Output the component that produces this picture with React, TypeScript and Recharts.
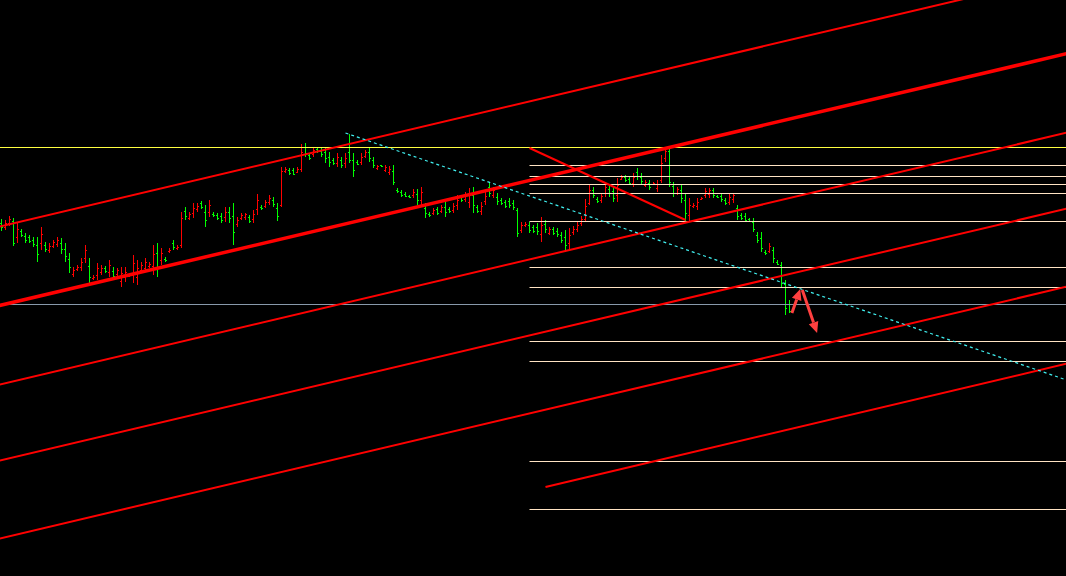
import { ComposedChart, Bar, XAxis, YAxis, ReferenceLine } from 'recharts';

// OHLC prices, one entry per bar
const opens = [
  1777, 1773, 1777, 1779, 1763, 1769, 1764, 1763, 1760, 1755, 1757, 1755,
  1750, 1754, 1756, 1757, 1751, 1741, 1726, 1731, 1733, 1742, 1734, 1722,
  1725, 1728, 1732, 1728, 1729, 1726, 1719, 1723, 1724, 1725, 1723, 1730,
  1732, 1734, 1734, 1747, 1740, 1741, 1749, 1757, 1752, 1755, 1789, 1782,
  1787, 1791, 1797, 1788, 1788, 1786, 1785, 1784, 1783, 1788, 1784, 1776,
  1782, 1783, 1783, 1781, 1791, 1793, 1794, 1798, 1800, 1792, 1795, 1829,
  1830, 1830, 1828, 1831, 1853, 1845, 1846, 1851, 1849, 1848, 1843, 1840,
  1837, 1840, 1837, 1848, 1840, 1838, 1838, 1844, 1848, 1840, 1832, 1835,
  1830, 1828, 1829, 1810, 1808, 1806, 1804, 1805, 1806, 1800, 1792, 1786,
  1787, 1791, 1789, 1793, 1791, 1790, 1795, 1803, 1801, 1798, 1805, 1793,
  1789, 1799, 1813, 1805, 1803, 1800, 1798, 1799, 1797, 1790, 1770, 1775,
  1775, 1773, 1773, 1766, 1776, 1767, 1771, 1769, 1765, 1763, 1757, 1768,
  1771, 1777, 1781, 1797, 1810, 1801, 1800, 1807, 1811, 1809, 1805, 1821,
  1823, 1821, 1817, 1828, 1823, 1815, 1817, 1816, 1812, 1820, 1842, 1849,
  1814, 1807, 1810, 1800, 1785, 1794, 1794, 1801, 1805, 1806, 1810, 1804,
  1804, 1800, 1798, 1801, 1792, 1785, 1784, 1781, 1778, 1765, 1762, 1748,
  1749, 1750, 1738, 1735, 1716, 1696,
];
const highs = [
  1781, 1780, 1784, 1782, 1777, 1771, 1767, 1765, 1763, 1763, 1773, 1758,
  1757, 1760, 1763, 1762, 1757, 1747, 1733, 1735, 1742, 1755, 1742, 1725,
  1737, 1735, 1734, 1740, 1733, 1732, 1733, 1733, 1727, 1745, 1740, 1738,
  1742, 1738, 1755, 1757, 1752, 1743, 1752, 1760, 1755, 1788, 1793, 1788,
  1797, 1797, 1799, 1795, 1800, 1788, 1787, 1787, 1793, 1793, 1797, 1783,
  1787, 1787, 1785, 1790, 1806, 1795, 1800, 1805, 1803, 1797, 1833, 1833,
  1832, 1832, 1833, 1856, 1857, 1847, 1853, 1853, 1852, 1853, 1848, 1842,
  1847, 1843, 1847, 1866, 1847, 1840, 1847, 1850, 1852, 1843, 1835, 1835,
  1835, 1834, 1835, 1812, 1810, 1808, 1805, 1811, 1811, 1813, 1797, 1788,
  1792, 1793, 1795, 1798, 1793, 1797, 1805, 1805, 1808, 1812, 1813, 1795,
  1798, 1808, 1817, 1813, 1807, 1802, 1800, 1802, 1800, 1792, 1778, 1778,
  1778, 1775, 1777, 1783, 1780, 1773, 1773, 1772, 1768, 1770, 1772, 1774,
  1778, 1784, 1801, 1815, 1813, 1803, 1807, 1817, 1815, 1813, 1822, 1825,
  1825, 1823, 1827, 1832, 1827, 1820, 1820, 1818, 1820, 1845, 1853, 1853,
  1818, 1813, 1815, 1807, 1802, 1797, 1802, 1803, 1812, 1812, 1812, 1805,
  1807, 1802, 1807, 1807, 1795, 1787, 1787, 1782, 1782, 1768, 1768, 1750,
  1757, 1753, 1740, 1738, 1720, 1700,
];
const lows = [
  1769, 1770, 1774, 1754, 1757, 1763, 1757, 1757, 1753, 1738, 1750, 1748,
  1747, 1752, 1753, 1746, 1738, 1727, 1723, 1729, 1729, 1737, 1715, 1720,
  1720, 1725, 1727, 1723, 1720, 1724, 1713, 1718, 1723, 1717, 1715, 1727,
  1728, 1732, 1725, 1723, 1735, 1738, 1747, 1750, 1750, 1752, 1780, 1780,
  1782, 1788, 1791, 1773, 1783, 1783, 1780, 1777, 1778, 1777, 1755, 1773,
  1780, 1780, 1777, 1777, 1785, 1790, 1792, 1795, 1793, 1779, 1793, 1827,
  1825, 1825, 1827, 1828, 1843, 1840, 1843, 1847, 1843, 1837, 1833, 1835,
  1833, 1832, 1832, 1837, 1823, 1835, 1835, 1842, 1838, 1832, 1830, 1833,
  1828, 1825, 1815, 1807, 1803, 1803, 1802, 1802, 1795, 1795, 1782, 1783,
  1785, 1785, 1787, 1783, 1787, 1787, 1790, 1798, 1798, 1792, 1787, 1787,
  1785, 1795, 1803, 1802, 1795, 1795, 1792, 1792, 1790, 1763, 1767, 1773,
  1767, 1767, 1765, 1758, 1767, 1765, 1765, 1763, 1757, 1748, 1750, 1765,
  1768, 1774, 1778, 1795, 1802, 1797, 1797, 1803, 1803, 1798, 1798, 1820,
  1818, 1815, 1813, 1820, 1815, 1813, 1810, 1815, 1808, 1817, 1838, 1813,
  1803, 1805, 1797, 1778, 1778, 1792, 1790, 1800, 1802, 1802, 1802, 1802,
  1798, 1795, 1795, 1797, 1780, 1780, 1778, 1778, 1768, 1757, 1748, 1745,
  1747, 1737, 1735, 1713, 1685, 1687,
];
const closes = [
  1773, 1777, 1781, 1757, 1771, 1765, 1760, 1759, 1756, 1746, 1766, 1751,
  1754, 1758, 1760, 1751, 1744, 1733, 1730, 1733, 1738, 1750, 1723, 1723,
  1732, 1732, 1729, 1735, 1724, 1730, 1727, 1728, 1726, 1737, 1732, 1735,
  1738, 1736, 1746, 1733, 1747, 1740, 1750, 1753, 1753, 1782, 1784, 1786,
  1792, 1794, 1793, 1780, 1795, 1785, 1782, 1780, 1788, 1782, 1768, 1780,
  1785, 1786, 1779, 1786, 1800, 1792, 1798, 1802, 1796, 1784, 1829, 1831,
  1827, 1826, 1831, 1848, 1847, 1842, 1850, 1849, 1846, 1842, 1838, 1837,
  1843, 1835, 1842, 1840, 1830, 1836, 1843, 1848, 1842, 1835, 1834, 1834,
  1833, 1831, 1818, 1809, 1805, 1804, 1803, 1808, 1800, 1808, 1787, 1785,
  1790, 1787, 1793, 1788, 1789, 1794, 1800, 1800, 1805, 1806, 1795, 1789,
  1794, 1804, 1807, 1810, 1799, 1797, 1794, 1795, 1793, 1767, 1775, 1776,
  1770, 1769, 1769, 1775, 1771, 1771, 1767, 1766, 1760, 1755, 1765, 1771,
  1775, 1781, 1794, 1810, 1805, 1799, 1804, 1813, 1807, 1802, 1815, 1823,
  1820, 1817, 1823, 1824, 1819, 1818, 1813, 1817, 1816, 1837, 1849, 1818,
  1807, 1811, 1802, 1787, 1795, 1795, 1798, 1802, 1809, 1810, 1805, 1803,
  1801, 1797, 1803, 1805, 1784, 1782, 1780, 1779, 1771, 1760, 1752, 1747,
  1754, 1742, 1736, 1717, 1692, 1689,
];

// full-width horizontal levels
const yellowLevel = 1852.5;
const grayLevel = 1695.5;
// levels drawn from bar 132 to the right edge
const rightLevels = [1834.5, 1823.5, 1815.5, 1806.5, 1778.5, 1732.5, 1712.5, 1658.5, 1638.5, 1538.5, 1490.5];
const rightLevelStart = 132;

// parallel channel lines: [x1, y1, x2, y2, width]
const channelLines = [
  [-1, 1773, 267, 2026, 2],
  [-1, 1694, 267, 1947, 3.5],
  [-1, 1615, 267, 1868, 2],
  [-1, 1539, 267, 1792, 2],
  [-1, 1461, 267, 1714, 2],
  [136, 1513, 267, 1637, 2],
];
const crossLine = [132, 1852, 171, 1780];
const trendLine = [86, 1867, 267, 1619];
// arrows: [fromX, fromY, toX, toY]
const arrows = [
  [197.6, 1687, 199.7, 1711],
  [200.2, 1710, 203.9, 1667],
];

const X_MIN = -0.375;
const X_MAX = 266.125;

const data = opens.map((o, i) => ({
  i,
  o,
  h: highs[i],
  l: lows[i],
  c: closes[i],
  range: [lows[i], highs[i]],
}));

function OhlcBar(props: any) {
  const { x, y, width, height, payload } = props;
  const { o, h, l, c } = payload;
  const top = Math.min(y, y + height);
  const span = Math.abs(height);
  const cx = Math.floor(x + width / 2);
  const py = (v: number) => Math.round(top + ((h - v) / (h - l || 1)) * span);
  const color = c >= o ? '#ff0000' : '#00ff00';
  const yTop = Math.round(top);
  const yBot = Math.max(Math.round(top + span), yTop + 1);
  return (
    <g shapeRendering="crispEdges">
      <rect x={cx} y={yTop} width={1} height={yBot - yTop} fill={color} />
      <rect x={cx - 1} y={py(o)} width={1} height={1} fill={color} />
      <rect x={cx + 1} y={py(c)} width={1} height={1} fill={color} />
    </g>
  );
}

function ArrowShape(props: any) {
  const { x1, y1, x2, y2 } = props;
  const dx = x2 - x1;
  const dy = y2 - y1;
  const len = Math.sqrt(dx * dx + dy * dy) || 1;
  const ux = dx / len;
  const uy = dy / len;
  const head = 11;
  const half = 5;
  const bx = x2 - ux * head;
  const by = y2 - uy * head;
  const pts = [
    `${x2},${y2}`,
    `${bx - uy * half},${by + ux * half}`,
    `${bx + uy * half},${by - ux * half}`,
  ].join(' ');
  return (
    <g>
      <line x1={x1} y1={y1} x2={bx} y2={by} stroke="#ff4040" strokeWidth={3} />
      <polygon points={pts} fill="#ff4040" />
    </g>
  );
}

export default function App() {
  return (
    <div style={{ position: 'absolute', left: 0, top: 0, width: 1066, height: 576, background: '#000' }}>
      <ComposedChart
        width={1066}
        height={576}
        data={data}
        margin={{ top: 0, right: 0, bottom: 0, left: 0 }}
        barGap={0}
      >
        <XAxis dataKey="i" type="number" domain={[X_MIN, X_MAX]} hide allowDataOverflow />
        <YAxis type="number" domain={[1424, 2000]} hide allowDataOverflow />

        <ReferenceLine y={yellowLevel} stroke="#ffff40" strokeWidth={1} />
        <ReferenceLine y={grayLevel} stroke="#8899aa" strokeWidth={1} />
        {rightLevels.map((v) => (
          <ReferenceLine
            key={v}
            segment={[{ x: rightLevelStart, y: v }, { x: X_MAX, y: v }]}
            stroke="#ffe4c4"
            strokeWidth={1}
            ifOverflow="hidden"
          />
        ))}

        {channelLines.map(([x1, y1, x2, y2, w], k) => (
          <ReferenceLine
            key={'ch' + k}
            segment={[{ x: x1, y: y1 }, { x: x2, y: y2 }]}
            stroke="#ff0000"
            strokeWidth={w}
            ifOverflow="hidden"
          />
        ))}
        <ReferenceLine
          segment={[{ x: crossLine[0], y: crossLine[1] }, { x: crossLine[2], y: crossLine[3] }]}
          stroke="#ff0000"
          strokeWidth={2}
          ifOverflow="hidden"
        />
        <ReferenceLine
          segment={[{ x: trendLine[0], y: trendLine[1] }, { x: trendLine[2], y: trendLine[3] }]}
          stroke="#40f0f0"
          strokeWidth={1.2}
          strokeDasharray="3 3"
          ifOverflow="hidden"
        />

        <Bar dataKey="range" barSize={3} shape={<OhlcBar />} isAnimationActive={false} />

        {arrows.map(([ax, ay, bx, by], k) => (
          <ReferenceLine
            key={'ar' + k}
            segment={[{ x: ax, y: ay }, { x: bx, y: by }]}
            shape={<ArrowShape />}
            ifOverflow="visible"
          />
        ))}
      </ComposedChart>
    </div>
  );
}
